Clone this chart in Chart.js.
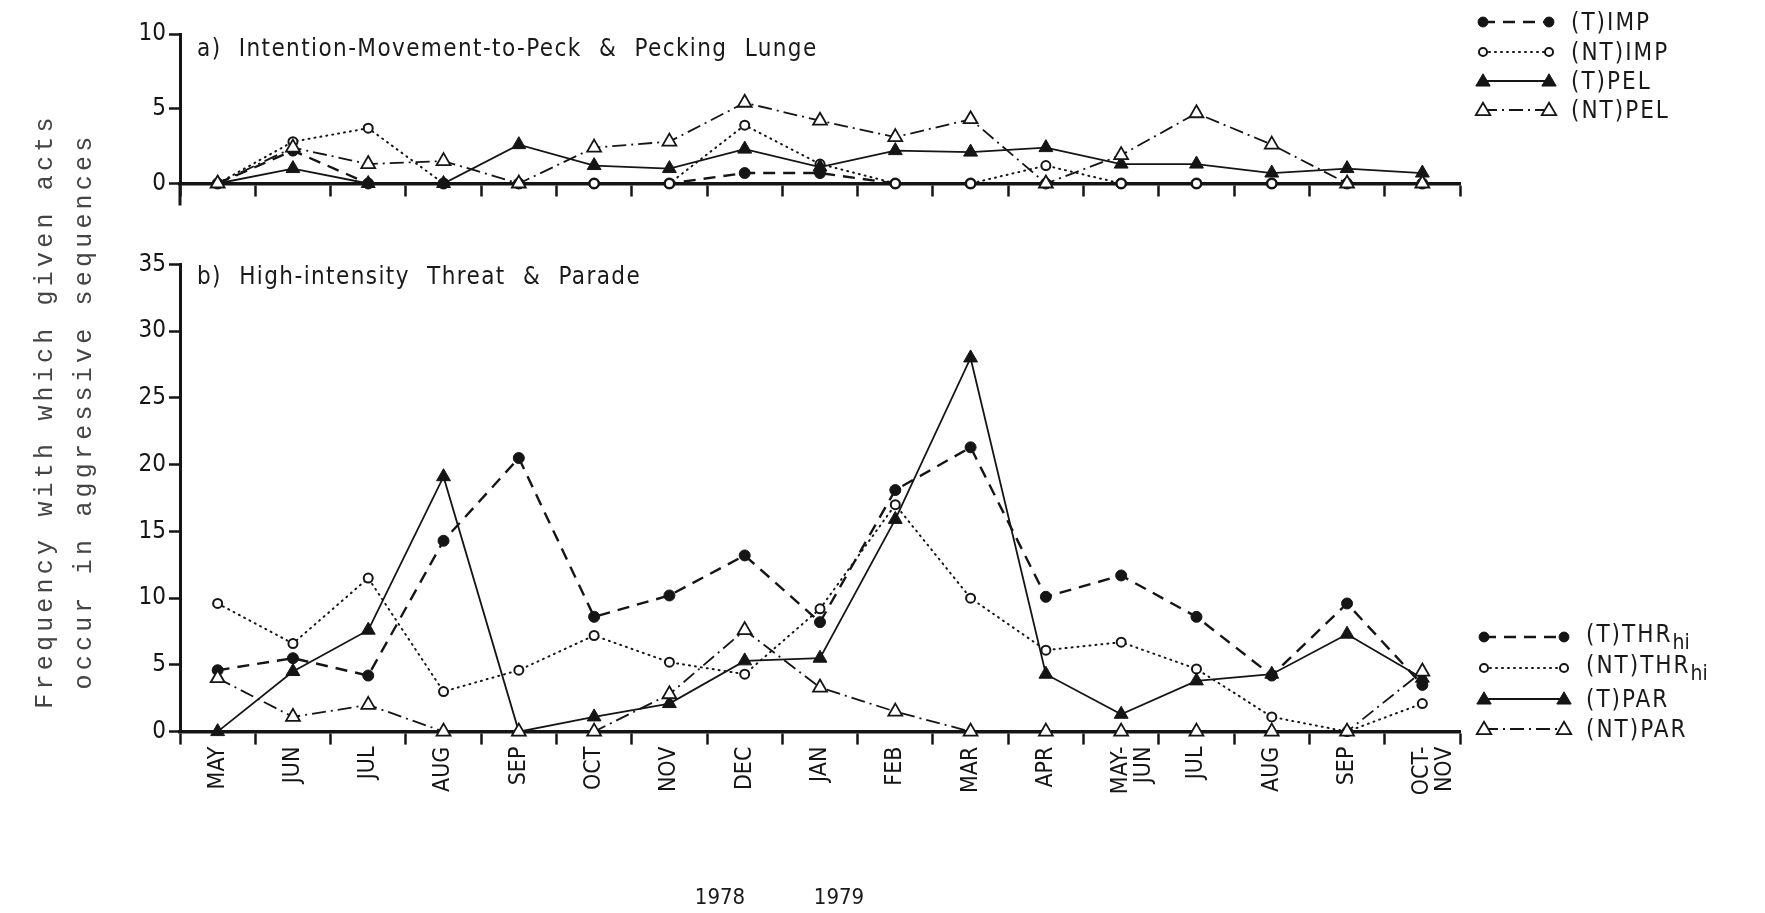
<!DOCTYPE html>
<html>
<head>
<meta charset="utf-8">
<script src="https://cdn.jsdelivr.net/npm/chart.js@4.4.0/dist/chart.umd.min.js"></script>
<style>
  body { margin: 0; background: #fff; }
  #wrap { position: relative; width: 1765px; height: 913px; overflow: hidden;
          font-family: "DejaVu Sans Condensed", "Liberation Sans Narrow", sans-serif; color: #1a1a1a; }
  canvas { position: absolute; left: 0; }
  #chartA { top: 0; }
  #chartB { top: 240px; }
  .ptitle { position: absolute; font-size: 24px; letter-spacing: 1.4px; word-spacing: 9px; white-space: nowrap; }
  .ytitle { position: absolute; font-family: "Liberation Mono", monospace; font-size: 25px;
            letter-spacing: 4.2px; color: #444; white-space: nowrap;
            transform: translate(-50%, -50%) rotate(-90deg); }
  .year { position: absolute; font-size: 22px; transform: translateX(-50%); }
  .lg { position: absolute; display: flex; align-items: center; height: 30px; font-size: 24px;
        letter-spacing: 2px; white-space: nowrap; }
  .lg svg { margin-right: 12px; }
  .lg sub { font-size: 21px; vertical-align: -7px; letter-spacing: 0; }
</style>
</head>
<body>
<div id="wrap">
  <canvas id="chartA" width="1765" height="215"></canvas>
  <canvas id="chartB" width="1765" height="673"></canvas>

  <div class="ptitle" style="left:197px; top:34px;">a) Intention-Movement-to-Peck &amp; Pecking Lunge</div>
  <div class="ptitle" style="left:197px; top:262px;">b) High-intensity Threat &amp; Parade</div>

  <div class="ytitle" style="left:45px; top:411px;">Frequency with which given acts</div>
  <div class="ytitle" style="left:84px; top:411px;">occur in aggressive sequences</div>

  <div class="year" style="left:720px; top:884px;">1978</div>
  <div class="year" style="left:839px; top:884px;">1979</div>

  <div id="legendA"></div>
  <div id="legendB"></div>
</div>

<script>
// month categories (1978-1979)
const months = ['MAY', 'JUN', 'JUL', 'AUG', 'SEP', 'OCT', 'NOV', 'DEC', 'JAN', 'FEB',
  'MAR', 'APR', ['MAY-', 'JUN'], 'JUL', 'AUG', 'SEP', ['OCT-', 'NOV']];

// a) Intention-Movement-to-Peck & Pecking Lunge
const impT  = [0, 2.2, 0, 0, 0, 0, 0, 0.7, 0.7, 0, 0, 0, 0, 0, 0, 0, 0];
const impNT = [0, 2.8, 3.7, 0, 0, 0, 0, 3.9, 1.3, 0, 0, 1.2, 0, 0, 0, 0, 0];
const pelT  = [0, 1.0, 0, 0, 2.6, 1.2, 1.0, 2.3, 1.1, 2.2, 2.1, 2.4, 1.3, 1.3, 0.7, 1.0, 0.7];
const pelNT = [0, 2.4, 1.3, 1.5, 0, 2.4, 2.8, 5.4, 4.2, 3.1, 4.3, 0, 1.9, 4.7, 2.6, 0, 0];

// b) High-intensity Threat & Parade
const thrT  = [4.6, 5.5, 4.2, 14.3, 20.5, 8.6, 10.2, 13.2, 8.2, 18.1, 21.3, 10.1, 11.7, 8.6, 4.2, 9.6, 3.5];
const thrNT = [9.6, 6.6, 11.5, 3.0, 4.6, 7.2, 5.2, 4.3, 9.2, 17.0, 10.0, 6.1, 6.7, 4.7, 1.1, 0, 2.1];
const parT  = [0, 4.5, 7.6, 19.1, 0, 1.1, 2.1, 5.3, 5.5, 15.9, 28.0, 4.3, 1.3, 3.8, 4.3, 7.3, 4.0];
const parNT = [4.0, 1.1, 2.0, 0, 0, 0, 2.8, 7.6, 3.3, 1.5, 0, 0, 0, 0, 0, 0, 4.5];

const yTicksA = [0, 5, 10];
const yTicksB = [0, 5, 10, 15, 20, 25, 30, 35];

const INK = '#151515';
const FONT = '"DejaVu Sans Condensed", "Liberation Sans Narrow", sans-serif';

// four line styles shared by both panels
const styles = {
  tFilledCircle: { borderDash: [12, 8], borderWidth: 2.4, pointStyle: 'circle', pointRadius: 5.5,
                   pointBackgroundColor: INK, pointBorderWidth: 1 },
  ntOpenCircle:  { borderDash: [1, 5], borderWidth: 2, borderCapStyle: 'round', pointStyle: 'circle', pointRadius: 4.5,
                   pointBackgroundColor: '#fff', pointBorderWidth: 2 },
  tFilledTri:    { borderDash: [], borderWidth: 1.8, pointStyle: 'triangle', pointRadius: 8,
                   pointBackgroundColor: INK, pointBorderWidth: 1 },
  ntOpenTri:     { borderDash: [14, 5, 2, 5], borderWidth: 1.8, pointStyle: 'triangle', pointRadius: 8,
                   pointBackgroundColor: '#fff', pointBorderWidth: 1.8 }
};

function ds(label, data, style) {
  return Object.assign({ label: label, data: data, borderColor: INK, pointBorderColor: INK,
    tension: 0, fill: false, clip: false, pointHoverRadius: style.pointRadius }, style);
}

function scales(yMax, yTicks, yWidth, xHeight, showX) {
  return {
    x: {
      type: 'category', offset: true,
      afterFit: s => { s.height = xHeight; },
      grid: { display: true, offset: true, drawOnChartArea: false, drawTicks: true,
              tickLength: 13, tickWidth: 2.5, tickColor: INK },
      border: { display: true, color: INK, width: 3.5 },
      ticks: { display: showX, autoSkip: false, minRotation: 90, maxRotation: 90, padding: 2,
               color: INK, font: { family: FONT, size: 23, lineHeight: 1.0 } }
    },
    y: {
      min: 0, max: yMax,
      afterFit: s => { s.width = yWidth; },
      afterBuildTicks: s => { s.ticks = yTicks.map(v => ({ value: v })); },
      grid: { display: true, drawOnChartArea: false, drawTicks: true,
              tickLength: 11, tickWidth: 2.5, tickColor: INK },
      border: { display: true, color: INK, width: 3 },
      ticks: { padding: 3, color: INK, font: { family: FONT, size: 24 } }
    }
  };
}

// the y axis of panel a runs on a little below its zero line
const axisTail = {
  id: 'axisTail',
  afterDraw(chart) {
    const a = chart.chartArea, c = chart.ctx;
    c.save();
    c.strokeStyle = INK;
    c.lineWidth = 3;
    c.beginPath();
    c.moveTo(a.left, a.bottom);
    c.lineTo(a.left, a.bottom + 22);
    c.stroke();
    c.restore();
  }
};

const common = {
  responsive: false,
  animation: false,
  plugins: { legend: { display: false }, tooltip: { enabled: false } }
};

new Chart(document.getElementById('chartA'), {
  type: 'line',
  data: {
    labels: months,
    datasets: [
      ds('(NT)PEL', pelNT, styles.ntOpenTri),
      ds('(T)PEL', pelT, styles.tFilledTri),
      ds('(NT)IMP', impNT, styles.ntOpenCircle),
      ds('(T)IMP', impT, styles.tFilledCircle)
    ]
  },
  options: Object.assign({}, common, {
    layout: { padding: { top: 34, right: 305, bottom: 0, left: 0 } },
    scales: scales(10, yTicksA, 180, 31.5, false)
  }),
  plugins: [axisTail]
});

new Chart(document.getElementById('chartB'), {
  type: 'line',
  data: {
    labels: months,
    datasets: [
      ds('(NT)PAR', parNT, styles.ntOpenTri),
      ds('(T)PAR', parT, styles.tFilledTri),
      ds('(NT)THR', thrNT, styles.ntOpenCircle),
      ds('(T)THR', thrT, styles.tFilledCircle)
    ]
  },
  options: Object.assign({}, common, {
    layout: { padding: { top: 24.5, right: 305, bottom: 0, left: 0 } },
    scales: scales(35, yTicksB, 180, 181.4, true)
  })
});

// legends: sample line with a marker at each end, then the label
function sample(style, w) {
  const dash = style.borderDash.length ? style.borderDash.join(',') : 'none';
  const cap = style.borderCapStyle === 'round' ? 'round' : 'butt';
  const r = style.pointRadius * 0.9;
  const fill = style.pointBackgroundColor;
  let marker;
  if (style.pointStyle === 'circle') {
    marker = x => `<circle cx="${x}" cy="15" r="${r}" fill="${fill}" stroke="${INK}" stroke-width="${style.pointBorderWidth}"/>`;
  } else {
    marker = x => `<polygon points="${x},${15 - r} ${x + r},${15 + r * 0.7} ${x - r},${15 + r * 0.7}" fill="${fill}" stroke="${INK}" stroke-width="${style.pointBorderWidth}"/>`;
  }
  return `<svg width="${w + 20}" height="30"><line x1="10" y1="15" x2="${w + 10}" y2="15" stroke="${INK}" stroke-width="${style.borderWidth}" stroke-dasharray="${dash}" stroke-linecap="${cap}"/>${marker(10)}${marker(w + 10)}</svg>`;
}

const legendA = [
  ['(T)IMP', styles.tFilledCircle],
  ['(NT)IMP', styles.ntOpenCircle],
  ['(T)PEL', styles.tFilledTri],
  ['(NT)PEL', styles.ntOpenTri]
];
const legendB = [
  ['(T)THR<sub>hi</sub>', styles.tFilledCircle],
  ['(NT)THR<sub>hi</sub>', styles.ntOpenCircle],
  ['(T)PAR', styles.tFilledTri],
  ['(NT)PAR', styles.ntOpenTri]
];
const rowsA = [22, 52, 81, 110];
const rowsB = [637, 668, 699, 729];

legendA.forEach((it, i) => {
  const d = document.createElement('div');
  d.className = 'lg';
  d.style.left = '1473px';
  d.style.top = (rowsA[i] - 15) + 'px';
  d.innerHTML = sample(it[1], 66) + '<span>' + it[0] + '</span>';
  document.getElementById('legendA').appendChild(d);
});
legendB.forEach((it, i) => {
  const d = document.createElement('div');
  d.className = 'lg';
  d.style.left = '1474px';
  d.style.top = (rowsB[i] - 15) + 'px';
  d.innerHTML = sample(it[1], 80) + '<span>' + it[0] + '</span>';
  document.getElementById('legendB').appendChild(d);
});
</script>
</body>
</html>
